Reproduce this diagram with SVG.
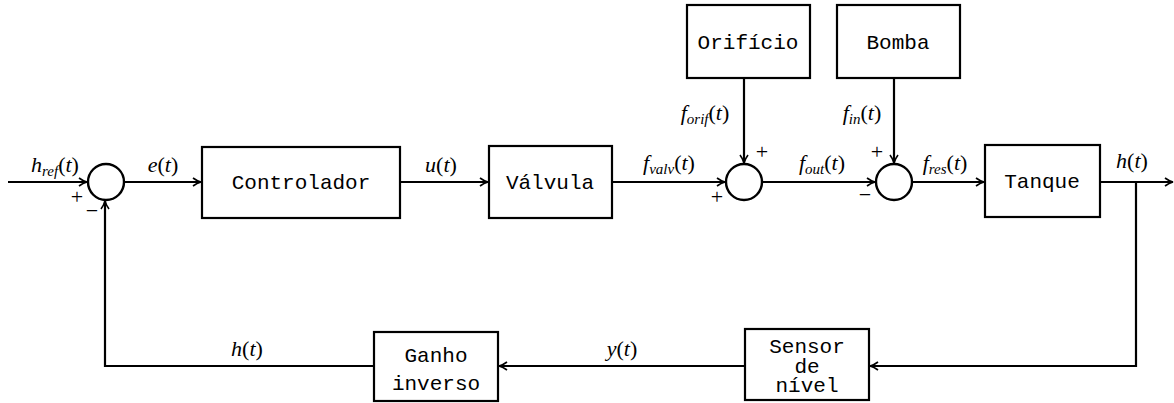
<svg xmlns="http://www.w3.org/2000/svg" width="1174" height="403" viewBox="0 0 1174 403">
  <style>
    .blk { fill: #fff; stroke: #000; stroke-width: 2.2; }
    .sum { fill: #fff; stroke: #000; stroke-width: 2.4; }
    .ln { fill: none; stroke: #000; stroke-width: 2.2; }
    .lbl { font-family: "Liberation Mono", "Courier New", monospace; font-size: 21px; fill: #000; text-anchor: middle; }
    .m { font-family: "Liberation Serif", "Times New Roman", serif; font-size: 22px; font-style: italic; fill: #000; text-anchor: middle; }
    .up { font-style: normal; }
    .sub { font-size: 15px; }
    .sg { font-family: "Liberation Serif", "Times New Roman", serif; font-size: 22px; fill: #000; text-anchor: middle; }
  </style>
  <defs>
    <marker id="arr" markerWidth="12" markerHeight="12" refX="10" refY="6" orient="auto" markerUnits="userSpaceOnUse">
      <path d="M2,2 Q6,5 10,6 Q6,7 2,10" fill="none" stroke="#000" stroke-width="1.6"/>
    </marker>
  </defs>

  <!-- connectors -->
  <g id="connectors">
    <line class="ln" x1="8" y1="182" x2="87" y2="182" marker-end="url(#arr)"/>
    <line class="ln" x1="124" y1="182" x2="201" y2="182" marker-end="url(#arr)"/>
    <line class="ln" x1="400" y1="182" x2="488" y2="182" marker-end="url(#arr)"/>
    <line class="ln" x1="612" y1="182" x2="725" y2="182" marker-end="url(#arr)"/>
    <line class="ln" x1="744" y1="78" x2="744" y2="163" marker-end="url(#arr)"/>
    <line class="ln" x1="762" y1="182" x2="875" y2="182" marker-end="url(#arr)"/>
    <line class="ln" x1="894" y1="78" x2="894" y2="163" marker-end="url(#arr)"/>
    <line class="ln" x1="912" y1="182" x2="984" y2="182" marker-end="url(#arr)"/>
    <line class="ln" x1="1100" y1="182" x2="1173" y2="182" marker-end="url(#arr)"/>
    <polyline class="ln" points="1136,182 1136,366 870,366" marker-end="url(#arr)"/>
    <line class="ln" x1="745" y1="366" x2="499" y2="366" marker-end="url(#arr)"/>
    <polyline class="ln" points="374,366 105,366 105,201" marker-end="url(#arr)"/>
  </g>

  <!-- signal labels -->
  <g id="signals">
    <text class="m" x="55" y="172">h<tspan class="sub" dy="4">ref</tspan><tspan class="up" dy="-4">(</tspan>t<tspan class="up">)</tspan></text>
    <text class="m" x="163" y="172">e<tspan class="up">(</tspan>t<tspan class="up">)</tspan></text>
    <text class="m" x="441" y="172">u<tspan class="up">(</tspan>t<tspan class="up">)</tspan></text>
    <text class="m" x="669" y="170">f<tspan class="sub" dy="4">valv</tspan><tspan class="up" dy="-4">(</tspan>t<tspan class="up">)</tspan></text>
    <text class="m" x="705" y="120">f<tspan class="sub" dy="4">orif</tspan><tspan class="up" dy="-4">(</tspan>t<tspan class="up">)</tspan></text>
    <text class="m" x="862" y="120">f<tspan class="sub" dy="4">in</tspan><tspan class="up" dy="-4">(</tspan>t<tspan class="up">)</tspan></text>
    <text class="m" x="822" y="170">f<tspan class="sub" dy="4">out</tspan><tspan class="up" dy="-4">(</tspan>t<tspan class="up">)</tspan></text>
    <text class="m" x="945" y="170">f<tspan class="sub" dy="4">res</tspan><tspan class="up" dy="-4">(</tspan>t<tspan class="up">)</tspan></text>
    <text class="m" x="1132" y="168">h<tspan class="up">(</tspan>t<tspan class="up">)</tspan></text>
    <text class="m" x="247" y="356">h<tspan class="up">(</tspan>t<tspan class="up">)</tspan></text>
    <text class="m" x="622" y="356">y<tspan class="up">(</tspan>t<tspan class="up">)</tspan></text>
  </g>

  <!-- summing junctions -->
  <g id="sum1">
    <circle class="sum" cx="106" cy="182" r="18"/>
    <text class="sg" x="77" y="204">+</text>
    <text class="sg" x="92" y="218">−</text>
  </g>
  <g id="sum2">
    <circle class="sum" cx="744" cy="182" r="18"/>
    <text class="sg" x="762" y="159">+</text>
    <text class="sg" x="717" y="204">+</text>
  </g>
  <g id="sum3">
    <circle class="sum" cx="894" cy="182" r="18"/>
    <text class="sg" x="877" y="159">+</text>
    <text class="sg" x="865" y="202">−</text>
  </g>

  <!-- blocks -->
  <g id="controlador">
    <rect class="blk" x="202" y="147" width="198" height="71"/>
    <text class="lbl" x="301" y="189">Controlador</text>
  </g>
  <g id="valvula">
    <rect class="blk" x="489" y="146" width="123" height="72"/>
    <text class="lbl" x="550" y="189">Válvula</text>
  </g>
  <g id="orificio">
    <rect class="blk" x="687" y="5" width="123" height="73"/>
    <text class="lbl" x="748" y="49">Orifício</text>
  </g>
  <g id="bomba">
    <rect class="blk" x="837" y="5" width="123" height="73"/>
    <text class="lbl" x="898" y="49">Bomba</text>
  </g>
  <g id="tanque">
    <rect class="blk" x="985" y="145" width="115" height="72"/>
    <text class="lbl" x="1042" y="188">Tanque</text>
  </g>
  <g id="sensor">
    <rect class="blk" x="745" y="329" width="124" height="71"/>
    <text class="lbl" x="807" y="353">Sensor<tspan x="807" dy="19.5">de</tspan><tspan x="807" dy="19.5">nível</tspan></text>
  </g>
  <g id="ganho">
    <rect class="blk" x="374" y="332" width="124" height="69"/>
    <text class="lbl" x="436" y="362">Ganho<tspan x="436" dy="28">inverso</tspan></text>
  </g>
</svg>
